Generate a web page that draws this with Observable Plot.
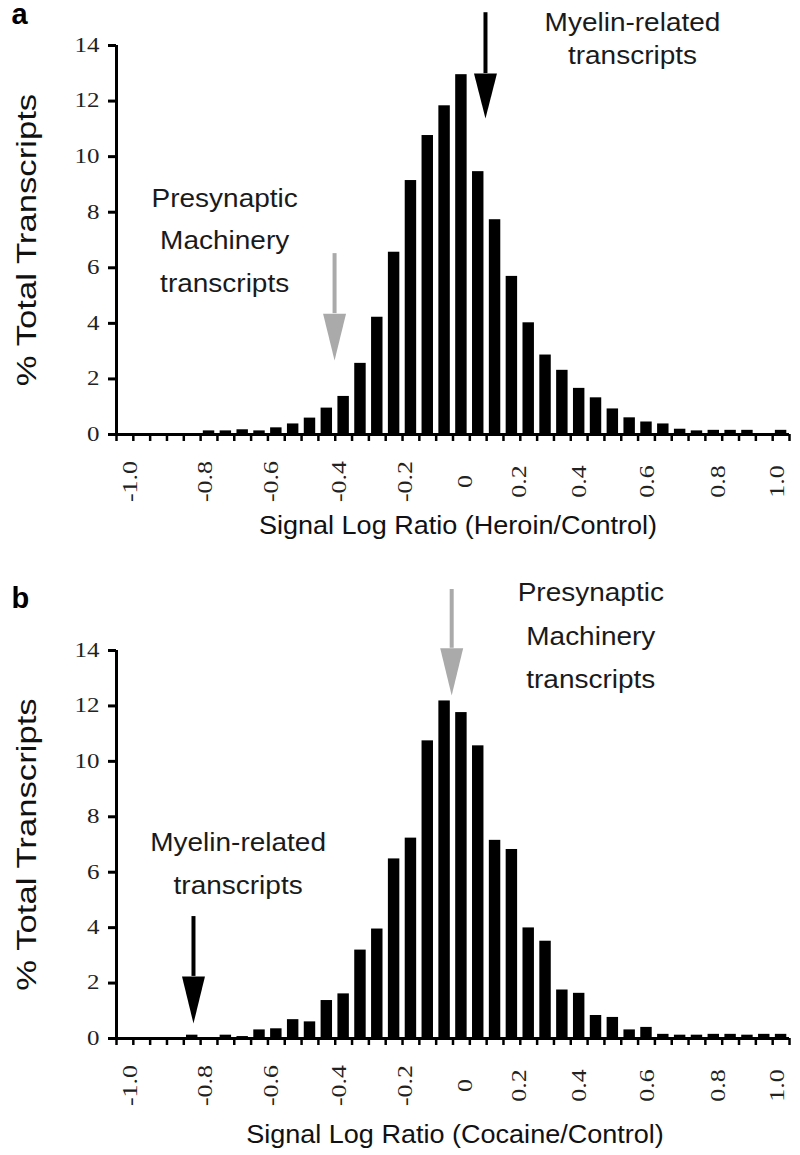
<!DOCTYPE html>
<html><head><meta charset="utf-8">
<script src="https://cdn.jsdelivr.net/npm/d3@7"></script>
<script src="https://cdn.jsdelivr.net/npm/@observablehq/plot@0.6"></script>
<style>
body{margin:0;background:#fff;}
#root{width:800px;}
svg{display:block;}
</style></head><body><div id="root"></div>
<script>
// 40 bins of Signal Log Ratio, labelled -1.0 ... 1.0
const binCount = 40;
const heroin = [0,0,0,0,0,0.13,0.13,0.17,0.13,0.24,0.38,0.59,0.95,1.37,2.56,4.22,6.56,9.14,10.76,11.83,12.95,9.46,7.73,5.69,4.02,2.86,2.31,1.66,1.32,0.92,0.6,0.45,0.38,0.19,0.13,0.15,0.15,0.15,0,0.15];
const cocaine = [0,0,0,0,0.12,0,0.12,0.07,0.31,0.35,0.68,0.6,1.37,1.61,3.19,3.95,6.48,7.23,10.74,12.18,11.76,10.56,7.15,6.82,3.99,3.51,1.75,1.63,0.83,0.76,0.31,0.4,0.15,0.12,0.12,0.15,0.15,0.12,0.15,0.15];
// tick labels and where the original figure prints them along the axis
const xTickLabels = ["-1.0","-0.8","-0.6","-0.4","-0.2","0","0.2","0.4","0.6","0.8","1.0"];
const xTickAt = [-0.983,-0.754,-0.553,-0.346,-0.145,0.038,0.203,0.385,0.593,0.809,0.989];
const yTicks = [0,2,4,6,8,10,12,14];
const yTitle = "% Total Transcripts";
const xTitleA = "Signal Log Ratio (Heroin/Control)";
const xTitleB = "Signal Log Ratio (Cocaine/Control)";
const presyn = "Presynaptic\nMachinery\ntranscripts";
const myelin = "Myelin-related\ntranscripts";
const GRAY = "#aaaaaa";
// annotation arrows: x, tail y, head-start y, tip y
const arrowsA = [
  {x: -0.361, tail: 6.51, head: 4.35, tip: 2.66, color: GRAY},
  {x: 0.099, tail: 15.18, head: 12.99, tip: 11.37, color: "#000"}
];
const arrowsB = [
  {x: -0.004, tail: 16.2, head: 14.08, tip: 12.38, color: GRAY},
  {x: -0.791, tail: 4.4, head: 2.24, tip: 0.54, color: "#000"}
];
const notesA = [
  {x: -0.696, y: 7.16, text: presyn, lh: 1.7},
  {x: 0.547, y: 14.32, text: myelin, lh: 1.32}
];
const notesB = [
  {x: 0.42, y: 14.72, text: presyn, lh: 1.75},
  {x: -0.655, y: 6.5, text: myelin, lh: 1.72}
];

const SANS = "'Liberation Sans', Arial, sans-serif";
const SERIF = "'Liberation Serif', 'Times New Roman', serif";
// distinct text colours, also used to find each group of texts for widening
const C_XLAB = "#222221", C_YLAB = "#222222", C_YTITLE = "#111112", C_NOTE = "#1a1a1b", C_XTITLE = "#111113";

function stretch(svg, fill, s) {
  svg.querySelectorAll("g").forEach(g => {
    const f = (g.getAttribute("fill") || "").toLowerCase();
    if (f !== fill) return;
    g.querySelectorAll("text").forEach(t => {
      const tr = t.getAttribute("transform") || "";
      t.setAttribute("transform", tr + ` scale(${s},1)`);
    });
  });
}

function panel({values, letter, xTitle, xTitleDx, xTitleDy, arrows, notes, height, marginTop, marginBottom, letterDy}) {
  const step = 2 / (binCount - 1);
  const data = values.map((v, k) => ({x: -1 + k * step, v}));
  const bounds = d3.range(binCount + 1).map(k => -1 + (k - 0.5) * step);
  const xmin = -1 - step / 2, xmax = 1 + step / 2;
  const hw = 0.035;
  const marks = [
    Plot.rect(data, {x1: d => d.x - step * 0.34, x2: d => d.x + step * 0.34, y1: 0, y2: "v", fill: "#000"}),
    Plot.axisX({ticks: bounds, tickSize: 7, tickFormat: () => "", strokeWidth: 2.5, label: null}),
    Plot.axisY({ticks: yTicks, tickSize: 8, tickPadding: 9, strokeWidth: 3, stroke: "#000", fill: C_YLAB, fontFamily: SERIF, fontSize: 20, label: null}),
    Plot.ruleY([0], {x1: xmin, x2: xmax, strokeWidth: 3}),
    Plot.ruleX([xmin], {y1: 0, y2: 14, strokeWidth: 3}),
    Plot.text(xTickLabels, {x: (d, i) => xTickAt[i], y: 0, dy: 47, rotate: -90, text: d => d, fontFamily: SERIF, fontSize: 20, fill: C_XLAB, textAnchor: "middle"}),
    Plot.text([xTitle], {frameAnchor: "bottom", dy: xTitleDy, dx: xTitleDx, fontFamily: SANS, fontSize: 26, fill: C_XTITLE}),
    Plot.text([yTitle], {frameAnchor: "left", dx: -89, rotate: -90, textAnchor: "middle", fontFamily: SANS, fontSize: 28, fill: C_YTITLE}),
    Plot.text([letter], {frameAnchor: "top-left", dx: -105, dy: letterDy, fontFamily: SANS, fontSize: 29, fontWeight: "bold", fill: "#000"})
  ];
  for (const a of arrows) {
    marks.push(Plot.ruleX([a], {x: "x", y1: "tail", y2: "head", stroke: a.color, strokeWidth: 4}));
    marks.push(Plot.line([[a.x - hw, a.head], [a.x + hw, a.head], [a.x, a.tip], [a.x - hw, a.head]], {fill: a.color, stroke: "none"}));
  }
  for (const n of notes) {
    marks.push(Plot.text([n], {x: "x", y: "y", text: "text", lineHeight: n.lh, fontFamily: SANS, fontSize: 25, fill: C_NOTE}));
  }
  const svg = Plot.plot({
    width: 800, height, marginLeft: 116, marginRight: 11, marginTop, marginBottom,
    x: {domain: [xmin, xmax]},
    y: {domain: [0, 14]},
    style: {background: "#fff", color: "#000", overflow: "visible"},
    marks
  });
  stretch(svg, C_YLAB, 1.25);
  stretch(svg, C_XLAB, 1.3);
  stretch(svg, C_YTITLE, 1.24);
  stretch(svg, C_NOTE, 1.12);
  stretch(svg, C_XTITLE, 1.04);
  return svg;
}

const root = document.getElementById("root");
root.append(panel({values: heroin, letter: "a", xTitle: xTitleA, xTitleDx: 5, xTitleDy: 99, arrows: arrowsA, notes: notesA,
  height: 577, marginTop: 45, marginBottom: 143, letterDy: -42}));
root.append(panel({values: cocaine, letter: "b", xTitle: xTitleB, xTitleDx: 2, xTitleDy: 104, arrows: arrowsB, notes: notesB,
  height: 578, marginTop: 73, marginBottom: 117, letterDy: -63}));
</script></body></html>
